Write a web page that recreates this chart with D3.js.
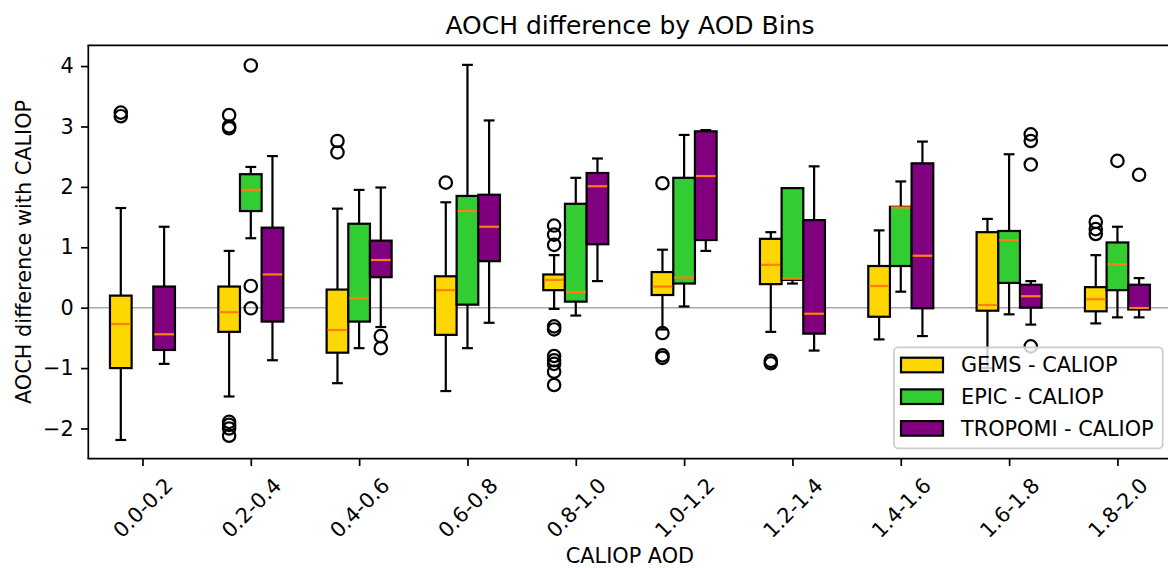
<!DOCTYPE html>
<html lang="en">
<head>
<meta charset="utf-8">
<title>AOCH difference by AOD Bins</title>
<script src="https://d3js.org/d3.v7.min.js"></script>
<style>
  body { margin: 0; background: #fff; }
  svg { display: block; font-family: "DejaVu Sans", sans-serif; }
</style>
</head>
<body>
<div id="chart"></div>
<script>
// bins on the x axis
var bins = ["0.0-0.2", "0.2-0.4", "0.4-0.6", "0.6-0.8", "0.8-1.0",
            "1.0-1.2", "1.2-1.4", "1.4-1.6", "1.6-1.8", "1.8-2.0"];
var seriesNames = ["GEMS - CALIOP", "EPIC - CALIOP", "TROPOMI - CALIOP"];
var seriesColors = ["#ffd700", "#32cd32", "#800080"];
var yTicks = [-2, -1, 0, 1, 2, 3, 4];

// box stats per bin: [lower whisker, q1, median, q3, upper whisker]
var gemsStats = [
  [-2.19, -1.00, -0.27, 0.20, 1.65],
  [-1.47, -0.40, -0.075, 0.35, 0.94],
  [-1.25, -0.745, -0.37, 0.30, 1.64],
  [-1.38, -0.45, 0.29, 0.52, 1.745],
  [-0.02, 0.29, 0.46, 0.55, 0.87],
  [-0.36, 0.21, 0.35, 0.59, 0.96],
  [-0.40, 0.39, 0.71, 1.14, 1.25],
  [-0.525, -0.15, 0.36, 0.69, 1.28],
  [-1.0, -0.05, 0.045, 1.25, 1.47],
  [-0.26, -0.06, 0.14, 0.34, 0.87]
];
var gemsOutliers = [
  [3.23, 3.17],
  [3.19, 3.00, 2.97, -1.89, -1.94, -2.00, -2.12],
  [2.76, 2.57],
  [2.07],
  [1.36, 1.21, 1.04, -0.31, -0.36, -0.80, -0.87, -0.93, -1.06, -1.28],
  [2.06, -0.42, -0.79, -0.83],
  [-0.88, -0.92],
  [],
  [],
  [1.42, 1.30, 1.22]
];

var epicStats = [
  null,
  [1.15, 1.60, 1.95, 2.21, 2.33],
  [-0.67, -0.23, 0.155, 1.39, 1.95],
  [-0.67, 0.05, 1.60, 1.85, 4.02],
  [-0.13, 0.10, 0.26, 1.72, 2.15],
  [0.02, 0.40, 0.50, 2.15, 2.86],
  [0.40, 0.46, 0.48, 1.98, 1.98],
  [0.265, 0.69, 1.66, 1.67, 2.09],
  [-0.11, 0.41, 1.12, 1.27, 2.54],
  [-0.16, 0.29, 0.72, 1.08, 1.34]
];
var epicOutliers = [
  [], [4.01, 0.36, -0.01], [], [], [], [], [], [], [], [2.43]
];

var tropomiStats = [
  [-0.93, -0.70, -0.44, 0.35, 1.34],
  [-0.87, -0.23, 0.55, 1.325, 2.51],
  [-0.32, 0.505, 0.79, 1.11, 1.99],
  [-0.25, 0.77, 1.34, 1.87, 3.10],
  [0.44, 1.05, 2.01, 2.23, 2.47],
  [0.94, 1.12, 2.18, 2.92, 2.94],
  [-0.71, -0.43, -0.10, 1.45, 2.34],
  [-0.47, -0.01, 0.86, 2.39, 2.75],
  [-0.28, 0.0, 0.19, 0.38, 0.44],
  [-0.16, -0.03, -0.005, 0.38, 0.49]
];
var tropomiOutliers = [
  [], [], [-0.47, -0.67], [], [], [], [], [], [2.87, 2.76, 2.37, -0.64], [2.20]
];

var allStats = [gemsStats, epicStats, tropomiStats];
var allOutliers = [gemsOutliers, epicOutliers, tropomiOutliers];
var offsets = [-0.2, 0, 0.2];
var boxWidth = 0.2;

// dimensions
var W = 1168, H = 568;
var axLeft = 88.3, axRight = 1171.6, axTop = 45.3, axBottom = 458.7;
var lw = 2.2;

var svg = d3.select("#chart").append("svg")
  .attr("width", W).attr("height", H);

var x = d3.scaleLinear().domain([-0.5, 9.5]).range([axLeft, axRight]);
var y = d3.scaleLinear().domain([-2.5, 4.344]).range([axBottom, axTop]);

// zero line
svg.append("line")
  .attr("x1", axLeft).attr("x2", W)
  .attr("y1", y(0)).attr("y2", y(0))
  .attr("stroke", "#a8a8a8")
  .attr("stroke-width", 1.6);

var bw = x(boxWidth) - x(0);

// boxes, one series after another
allStats.forEach(function(stats, s) {
  var g = svg.append("g");
  stats.forEach(function(d, i) {
    if (!d) return;
    var cx = x(i + offsets[s]);
    var cg = g.append("g");
    // whiskers
    cg.append("line")
      .attr("x1", cx).attr("x2", cx)
      .attr("y1", y(d[0])).attr("y2", y(d[1]))
      .attr("stroke", "#000").attr("stroke-width", lw);
    cg.append("line")
      .attr("x1", cx).attr("x2", cx)
      .attr("y1", y(d[3])).attr("y2", y(d[4]))
      .attr("stroke", "#000").attr("stroke-width", lw);
    // caps
    [d[0], d[4]].forEach(function(v) {
      cg.append("line")
        .attr("x1", cx - bw / 4).attr("x2", cx + bw / 4)
        .attr("y1", y(v)).attr("y2", y(v))
        .attr("stroke", "#000").attr("stroke-width", lw);
    });
    // box
    cg.append("rect")
      .attr("x", cx - bw / 2).attr("width", bw)
      .attr("y", y(d[3])).attr("height", y(d[1]) - y(d[3]))
      .attr("fill", seriesColors[s])
      .attr("stroke", "#000").attr("stroke-width", lw);
    // median
    cg.append("line")
      .attr("x1", cx - bw / 2 + 1).attr("x2", cx + bw / 2 - 1)
      .attr("y1", y(d[2])).attr("y2", y(d[2]))
      .attr("stroke", "#ff7f0e").attr("stroke-width", lw);
    // fliers
    cg.selectAll("circle")
      .data(allOutliers[s][i])
      .enter().append("circle")
        .attr("cx", cx)
        .attr("cy", function(v) { return y(v); })
        .attr("r", 6.2)
        .attr("fill", "none")
        .attr("stroke", "#000")
        .attr("stroke-width", lw);
  });
});

// spines
svg.append("line").attr("x1", axLeft).attr("x2", axLeft).attr("y1", axTop).attr("y2", axBottom)
  .attr("stroke", "#000").attr("stroke-width", 1.7);
svg.append("line").attr("x1", axLeft - 0.8).attr("x2", W).attr("y1", axBottom).attr("y2", axBottom)
  .attr("stroke", "#000").attr("stroke-width", 1.7);
svg.append("line").attr("x1", axLeft - 0.8).attr("x2", W).attr("y1", axTop).attr("y2", axTop)
  .attr("stroke", "#000").attr("stroke-width", 1.7);

// y axis
var yAxis = svg.append("g")
  .attr("transform", "translate(" + axLeft + ",0)")
  .call(d3.axisLeft(y).tickValues(yTicks).tickSize(7.3).tickPadding(7.3).tickFormat(d3.format("d")));
yAxis.select(".domain").remove();
yAxis.selectAll(".tick line").attr("stroke-width", 1.7);
yAxis.selectAll("text").attr("font-size", 20.8).attr("font-family", "DejaVu Sans").attr("fill", "#000");

// x axis
var xAxis = svg.append("g")
  .attr("transform", "translate(0," + axBottom + ")")
  .call(d3.axisBottom(x).tickValues(d3.range(bins.length)).tickSize(7.3)
    .tickFormat(function(i) { return bins[i]; }));
xAxis.select(".domain").remove();
xAxis.selectAll(".tick line").attr("stroke-width", 1.7);
xAxis.selectAll("text")
  .attr("font-size", 20.8).attr("font-family", "DejaVu Sans").attr("fill", "#000")
  .attr("y", 0).attr("dy", "0.35em")
  .attr("text-anchor", "middle")
  .attr("transform", "translate(0,49) rotate(-45)");

// titles
svg.append("text")
  .attr("x", (axLeft + axRight) / 2).attr("y", 34)
  .attr("text-anchor", "middle")
  .attr("font-size", 25)
  .text("AOCH difference by AOD Bins");

svg.append("text")
  .attr("x", (axLeft + axRight) / 2).attr("y", 563)
  .attr("text-anchor", "middle")
  .attr("font-size", 20.8)
  .text("CALIOP AOD");

svg.append("text")
  .attr("transform", "translate(31," + ((axTop + axBottom) / 2) + ") rotate(-90)")
  .attr("text-anchor", "middle")
  .attr("font-size", 20.8)
  .text("AOCH difference with CALIOP");

// legend
var legend = svg.append("g").attr("transform", "translate(894,347.3)");
legend.append("rect")
  .attr("width", 268.7).attr("height", 101)
  .attr("rx", 4).attr("ry", 4)
  .attr("fill", "#fff").attr("fill-opacity", 0.8)
  .attr("stroke", "#cccccc").attr("stroke-width", 1.7);
seriesNames.forEach(function(name, s) {
  var cy = 17.7 + s * 31.7;
  legend.append("rect")
    .attr("x", 7).attr("y", cy - 7.3)
    .attr("width", 42).attr("height", 14.6)
    .attr("fill", seriesColors[s])
    .attr("stroke", "#000").attr("stroke-width", lw);
  legend.append("text")
    .attr("x", 67).attr("y", cy).attr("dy", "0.35em")
    .attr("font-size", 20.8)
    .text(name);
});
</script>
</body>
</html>
